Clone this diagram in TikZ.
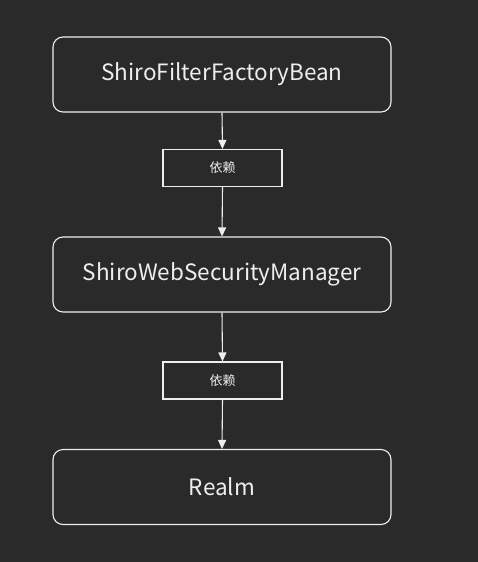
\documentclass[tikz,border=0pt]{standalone}
\usepackage{fontspec}
\setmainfont{Noto Sans CJK SC}
\usetikzlibrary{arrows.meta}
\definecolor{bg}{HTML}{2A2A2A}
\definecolor{fg}{HTML}{EEEEEE}
\begin{document}
\begin{tikzpicture}[x=1pt,y=-1pt,
  bigbox/.style={draw=fg,line width=1.1pt,rounded corners=10pt,minimum width=338pt,minimum height=75pt,text=fg,font=\fontsize{22.5}{26}\selectfont,inner sep=0pt},
  tagbox/.style={draw=fg,line width=1.1pt,minimum width=119pt,minimum height=37pt,text=fg,font=\fontsize{13}{15}\selectfont,inner sep=0pt},
  conn/.style={draw=fg,line width=1.1pt,-{Triangle[width=8pt,length=9pt]}}]
\fill[bg] (0,0) rectangle (478,562);
\useasboundingbox (0,0) rectangle (478,562);
\node[bigbox] (a) at (222,74.5) {ShiroFilterFactoryBean};
\node[tagbox] (t1) at (222.5,168) {依赖};
\node[bigbox] (b) at (222,274.5) {ShiroWebSecurityManager};
\node[tagbox] (t2) at (222.5,380.5) {依赖};
\node[bigbox] (c) at (222,487) {Realm};
\draw[conn] (a.south) -- (t1.north);
\draw[conn] (t1.south) -- (b.north);
\draw[conn] (b.south) -- (t2.north);
\draw[conn] (t2.south) -- (c.north);
\end{tikzpicture}
\end{document}
